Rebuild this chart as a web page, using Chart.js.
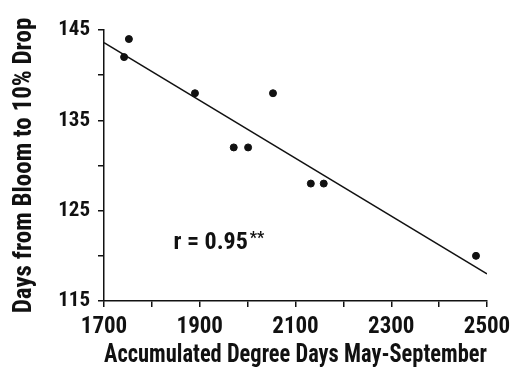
<!DOCTYPE html>
<html><head><meta charset="utf-8">
<script src="https://cdn.jsdelivr.net/npm/chart.js@4"></script>
<style>html,body{margin:0;padding:0;background:#fff}</style>
</head><body><canvas id="c" width="514" height="368"></canvas>
<script>
const degreeDays = [1742, 1752, 1890, 1971, 2001, 2053, 2132, 2159, 2477];
const daysToDrop = [142, 144, 138, 132, 132, 138, 128, 128, 120];
const fitX = [1700, 2500];
const fitY = [143.6, 118.0];
const xTickLabels = [1700, 1900, 2100, 2300, 2500];
const yTickLabels = [115, 125, 135, 145];
const annotation = 'r = 0.95';
const annotationMark = '**';
const FONT = '"Roboto Condensed", "Open Sans Condensed", sans-serif';

const annot = {
  id: 'annot',
  afterDraw(chart) {
    const {ctx, scales} = chart;
    const x = scales.x.getPixelForValue(1845), y = scales.y.getPixelForValue(121.4);
    ctx.save();
    ctx.fillStyle = '#111';
    ctx.textBaseline = 'middle';
    ctx.font = 'bold 24px ' + FONT;
    ctx.fillText(annotation, x, y);
    const w = ctx.measureText(annotation).width;
    ctx.font = 'bold 16px ' + FONT;
    ctx.fillText(annotationMark, x + w + 2, y - 4);
    ctx.restore();
  }
};

new Chart(document.getElementById('c'), {
  type: 'scatter',
  data: {
    datasets: [
      {
        data: degreeDays.map((x, i) => ({x, y: daysToDrop[i]})),
        backgroundColor: '#111', borderColor: '#111',
        pointRadius: 3.5, pointHoverRadius: 3.5
      },
      {
        type: 'line',
        data: fitX.map((x, i) => ({x, y: fitY[i]})),
        borderColor: '#111', borderWidth: 1.5, pointRadius: 0, fill: false
      }
    ]
  },
  options: {
    responsive: false, animation: false,
    layout: {padding: {top: 30, right: 27, left: 12, bottom: 0}},
    plugins: {legend: {display: false}, tooltip: {enabled: false}},
    scales: {
      x: {
        type: 'linear', min: 1700, max: 2500,
        ticks: {stepSize: 100, color: '#111', padding: 8, maxRotation: 0, autoSkip: false,
          font: {family: FONT, size: 23, weight: 'bold', lineHeight: 1.1},
          callback: v => xTickLabels.includes(v) ? String(v) : ''},
        grid: {drawOnChartArea: false, drawTicks: true, tickLength: 6, color: '#111', lineWidth: 1.5},
        border: {display: true, color: '#111', width: 1.5},
        title: {display: true, text: 'Accumulated Degree Days May-September', color: '#111', padding: 0,
          font: {family: FONT, size: 26, weight: 'bold', lineHeight: 1.0}},
        afterFit(s) { s.height = 67; s.paddingRight = 20; s.paddingLeft = 20; }
      },
      y: {
        type: 'linear', min: 115, max: 145,
        ticks: {stepSize: 5, color: '#111', padding: 8, autoSkip: false,
          font: {family: FONT, size: 21, weight: 'bold'},
          callback: v => yTickLabels.includes(v) ? String(v) : ''},
        grid: {drawOnChartArea: false, drawTicks: true, tickLength: 6, color: '#111', lineWidth: 1.5},
        border: {display: true, color: '#111', width: 1.5},
        title: {display: true, text: 'Days from Bloom to 10% Drop', color: '#111', padding: 0,
          font: {family: FONT, size: 25, weight: 'bold', lineHeight: 1.0}},
        afterFit(s) { s.width = 92; }
      }
    }
  },
  plugins: [annot]
});
</script></body></html>
